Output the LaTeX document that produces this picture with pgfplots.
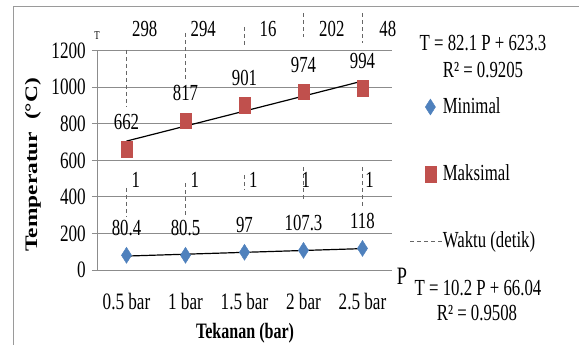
\documentclass[border=0pt]{standalone}
\usepackage{fontspec}
\setmainfont{Liberation Serif}[FakeStretch=0.73]
\newfontfamily\wideserif{Liberation Serif}[FakeStretch=1.33]
\usepackage{pgfplots}
\pgfplotsset{compat=1.18}
\definecolor{minblue}{HTML}{4F81BD}
\definecolor{maxred}{HTML}{C0504D}
\definecolor{gridgray}{HTML}{8C8C8C}
\definecolor{framegray}{HTML}{9A9A9A}
\newcommand{\lbl}{\fontsize{23}{26}\selectfont}
\newcommand{\tck}{\fontsize{23.5}{27}\selectfont}
\pgfplotsset{
  markleg/.style={legend image code/.code={\path[draw=none] (0pt,0pt) -- (32pt,0pt); \path[##1, draw=none, /tikz/only marks] plot coordinates {(20pt,0pt)};}},
  lineleg/.style={legend image code/.code={\draw[##1] (0pt,0pt) -- (32pt,0pt);}},
}
\begin{document}
\begin{tikzpicture}
\useasboundingbox (-97pt,-75pt) rectangle (482pt,270pt);
\begin{axis}[
  scale only axis,
  width=295pt, height=219.3pt,
  xmin=-0.5, xmax=4.5,
  ymin=0, ymax=1200,
  clip=false,
  axis x line*=bottom, axis y line*=left,
  axis line style={draw=gridgray, line width=0.8pt, -},
  xtick={0,1,2,3,4},
  xticklabels={0.5 bar,1 bar,1.5 bar,2 bar,2.5 bar},
  ytick={0,200,...,1200},
  ymajorgrids, grid style={gridgray, line width=0.8pt},
  major tick length=5pt,
  tick align=outside,
  xtick style={draw=none},
  ytick style={draw=gridgray, line width=0.8pt},
  /pgf/number format/assume math mode=true,
  /pgf/number format/1000 sep={},
  ticklabel style={font=\tck},
  yticklabel style={anchor=east, inner sep=0pt, xshift=-6pt},
  xticklabel style={anchor=base, inner sep=0pt, yshift=-35pt},
  xlabel={\fontsize{22}{26}\selectfont\bfseries Tekanan (bar)},
  xlabel style={at={(axis description cs:0.502,-0.29)}, anchor=center},
  ylabel={Temperatur\ \ (°C)},
  ylabel style={font=\wideserif\fontsize{17.6}{20}\selectfont\bfseries, at={(axis description cs:-0.217,0.479)}, anchor=center},
  legend style={at={(axis description cs:1.061,0.7934)}, anchor=north west, draw=none, fill=none, inner sep=0pt, outer sep=0pt, row sep=45pt, font=\lbl, nodes={inner sep=0pt, text height=17pt, text depth=5pt, anchor=west}, /tikz/every even column/.append style={column sep=3pt}},
  legend cell align=left,
]
% Minimal
\addplot[only marks, mark=diamond*, mark size=8pt,
  mark options={draw=minblue, fill=minblue, xscale=0.85},
  nodes near coords, point meta=explicit symbolic,
  nodes near coords align=center,
  every node near coord/.append style={font=\lbl, inner sep=0pt, anchor=center, yshift=27.5pt, text=black},
  markleg]
table[meta=label] {
x y label
0 80.4 80.4
1 80.5 80.5
2 97 97
3 107.3 107.3
4 118 118
};
\addlegendentry{Minimal}
% Maksimal
\addplot[only marks, mark=square*, mark size=5.5pt,
  mark options={draw=maxred, fill=maxred, yscale=1.4},
  nodes near coords, point meta=explicit symbolic,
  nodes near coords align=center,
  every node near coord/.append style={font=\lbl, inner sep=0pt, anchor=center, yshift=27.5pt, text=black},
  markleg]
table[meta=label] {
x y label
0 662 662
1 817 817
2 901 901
3 974 974
4 994 994
};
\addlegendentry{Maksimal}
% Waktu (detik) dashed lines
\addplot[black!60, line width=0.8pt, dash pattern=on 4pt off 3pt, unbounded coords=jump, lineleg]
coordinates {
(0,1204) (0,892) (0,nan)
(0,449) (0,290) (0,nan)
(1,1297) (1,1040) (1,nan)
(1,476) (1,290) (1,nan)
(2,1330) (2,1220) (2,nan)
(2,520) (2,438) (2,nan)
(3,1406) (3,1275) (3,nan)
(3,564) (3,383) (3,nan)
(4,1406) (4,1242) (4,nan)
(4,564) (4,345)
};
\addlegendentry{Waktu (detik)}
% Waktu labels
\addplot[draw=none, mark=none, forget plot, nodes near coords, point meta=explicit symbolic,
  nodes near coords align=center,
  every node near coord/.append style={font=\lbl, inner sep=0pt, anchor=center, text=black}]
table[meta=label] {
x y label
0.31 1319 298
1.30 1319 294
2.40 1319 16
3.48 1319 202
4.43 1319 48
0.16 492 1
1.16 492 1
2.15 492 1
3.04 492 1
4.12 492 1
};
% trend lines
\addplot[black, line width=1.2pt, forget plot] coordinates {(0,705.4) (4,1033.8)};
\addplot[black, line width=1.2pt, forget plot] coordinates {(0,76.24) (4,117.04)};
\end{axis}
\draw[framegray, line width=1pt] (-83pt,-75pt) -- (-83pt,263pt) -- (482pt,263pt);
\node[font=\lbl] at (386pt,227pt) {T = 82.1 P + 623.3};
\node[font=\lbl] at (386pt,200pt) {R² = 0.9205};
\node[font=\lbl] at (381pt,-18pt) {T = 10.2 P + 66.04};
\node[font=\lbl] at (380pt,-43pt) {R² = 0.9508};
\node[font=\fontsize{25}{28}\selectfont] at (305pt,-6pt) {P};
\node[font=\fontsize{12}{14}\selectfont] at (0pt,234pt) {T};
\end{tikzpicture}
\end{document}
